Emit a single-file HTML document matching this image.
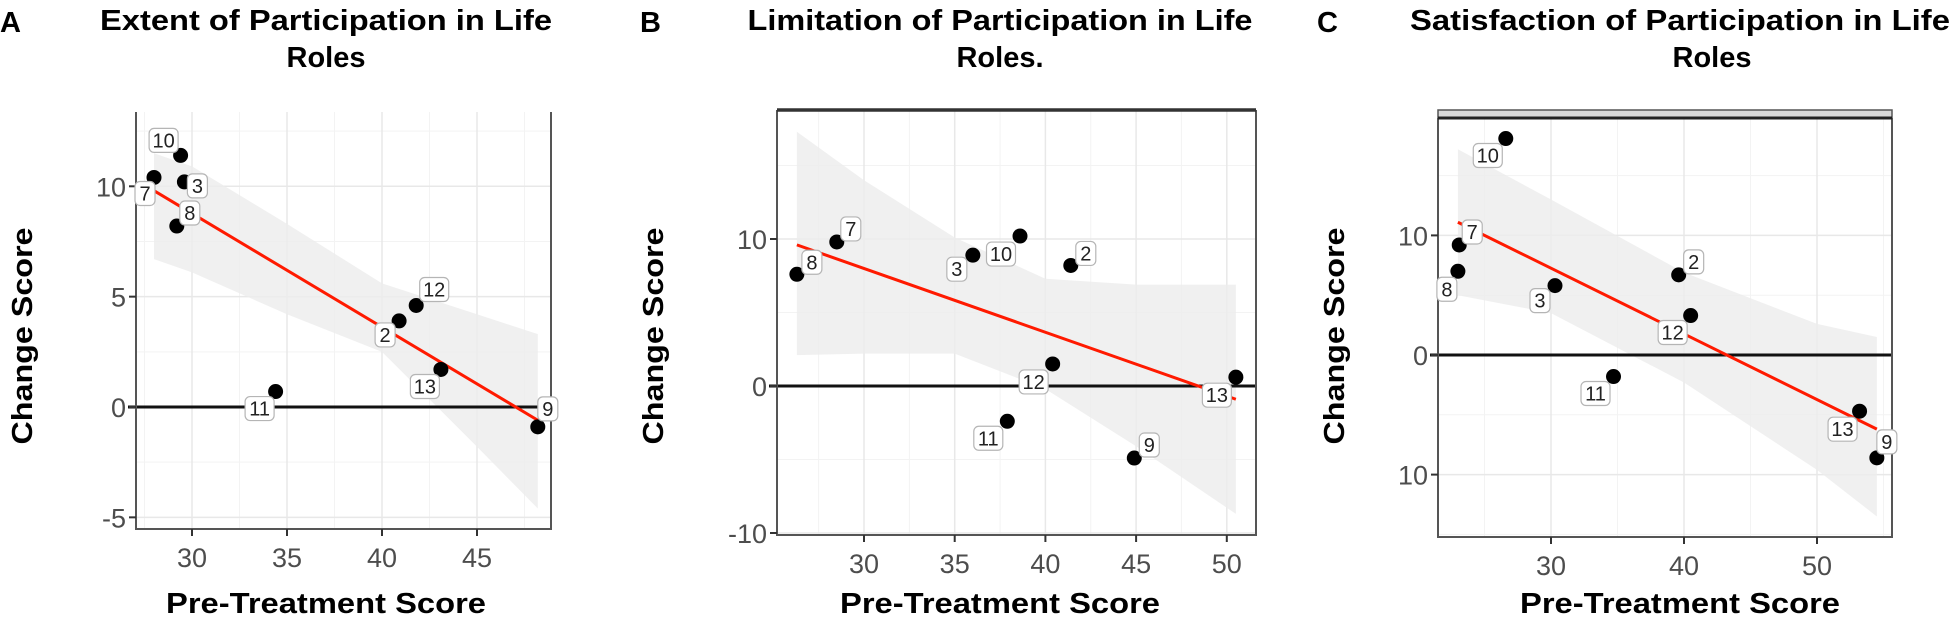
<!DOCTYPE html>
<html><head><meta charset="utf-8">
<style>
html,body{margin:0;padding:0;background:#fff;}
svg{display:block;}
.tick{font-family:"Liberation Sans Narrow","Liberation Sans",sans-serif;font-size:27px;fill:#4d4d4d;}
.ttl{font-family:"Liberation Sans",sans-serif;font-weight:bold;font-size:29px;fill:#000;}
.lbl{font-family:"Liberation Sans Narrow","Liberation Sans",sans-serif;font-size:20px;fill:#222;}
</style></head>
<body>
<svg id="fig" width="1950" height="619" viewBox="0 0 1950 619" xmlns="http://www.w3.org/2000/svg"></svg>
<script>
// ---- Panel A data ----
const aIds = ['7','10','3','8','11','2','12','13','9'];
const aX = [28.0,29.4,29.6,29.2,34.4,40.9,41.8,43.1,48.2];
const aY = [10.4,11.4,10.2,8.2,0.7,3.9,4.6,1.7,-0.9];
const aFitX = [28.0,48.2];
const aFitY = [9.8,-0.6];
const aBandX = [28,30,35,40,45,48.2];
const aBandLo = [6.7,6.1,4.2,2.5,-1.8,-4.6];
const aBandHi = [11.5,10.9,8.3,5.6,4.2,3.3];
const aXTicks = [30,35,40,45];
const aYTicks = [-5,0,5,10];
const aYTickLabels = ['-5','0','5','10'];
// ---- Panel B data ----
const bIds = ['8','7','3','10','2','12','11','9','13'];
const bX = [26.3,28.5,36.0,38.6,41.4,40.4,37.9,44.9,50.5];
const bY = [7.6,9.8,8.9,10.2,8.2,1.5,-2.4,-4.9,0.6];
const bFitX = [26.3,50.5];
const bFitY = [9.6,-0.9];
const bBandX = [26.3,30,35,40,45,50.5];
const bBandLo = [2.1,2.2,2.2,-0.2,-4.1,-8.7];
const bBandHi = [17.3,14.0,10.1,7.3,6.9,6.9];
const bXTicks = [30,35,40,45,50];
const bYTicks = [-10,0,10];
const bYTickLabels = ['-10','0','10'];
// ---- Panel C data ----
const cIds = ['10','7','8','3','2','12','11','13','9'];
const cX = [26.6,23.1,23.0,30.3,39.6,40.5,34.7,53.2,54.5];
const cY = [18.1,9.2,7.0,5.8,6.7,3.3,-1.8,-4.7,-8.6];
const cFitX = [23.0,54.5];
const cFitY = [11.1,-6.2];
const cBandX = [23,30,40,50,54.5];
const cBandLo = [5.0,3.5,-2.3,-9.6,-13.5];
const cBandHi = [17.2,13.0,6.9,2.6,1.5];
const cXTicks = [30,40,50];
const cYTicks = [-10,0,10];
const cYTickLabels = ['10','0','10'];

const NS='http://www.w3.org/2000/svg';
const fig=document.getElementById('fig');
function mk(tag,attrs,parent){const e=document.createElementNS(NS,tag);for(const k in attrs)e.setAttribute(k,attrs[k]);(parent||fig).appendChild(e);return e;}

function panel(cfg){
  const g=mk('g',{});
  
  
  const sx=v=>cfg.x0px+(v-cfg.x0v)*cfg.xs;
  const sy=v=>cfg.y0px-(v)*cfg.ys;
  const L=cfg.left,R=cfg.right,T=cfg.top,B=cfg.bottom;
  cfg.minorX.forEach(v=>{const l=mk('line',{x1:sx(v),x2:sx(v),y1:T,y2:B,stroke:'#f3f3f3','stroke-width':1},g);});
  cfg.minorY.forEach(v=>{const l=mk('line',{x1:L,x2:R,y1:sy(v),y2:sy(v),stroke:'#f3f3f3','stroke-width':1},g);});
  cfg.xticks.forEach(v=>{const l=mk('line',{x1:sx(v),x2:sx(v),y1:T,y2:B,stroke:'#e8e8e8','stroke-width':1.5},g);});
  cfg.yticks.forEach(v=>{const l=mk('line',{x1:L,x2:R,y1:sy(v),y2:sy(v),stroke:'#e8e8e8','stroke-width':1.5},g);});
  let d='';
  cfg.bandX.forEach((x,i)=>{d+=(i?'L':'M')+sx(x)+','+sy(cfg.bandHi[i]);});
  for(let i=cfg.bandX.length-1;i>=0;i--)d+='L'+sx(cfg.bandX[i])+','+sy(cfg.bandLo[i]);
  const band=mk('path',{d:d+'Z',fill:'#ececec','fill-opacity':0.8},g);
  
  
  const z=mk('line',{x1:L-8,x2:R,y1:sy(0),y2:sy(0),stroke:'#111','stroke-width':3},g);
  
  
  const f=mk('line',{x1:sx(cfg.fitX[0]),y1:sy(cfg.fitY[0]),x2:sx(cfg.fitX[1]),y2:sy(cfg.fitY[1]),stroke:'#ff1a00','stroke-width':3},g);
  
  
  const ax=mk('path',{d:`M${L},${T}V${B}H${R}V${T}`,fill:'none',stroke:'#555','stroke-width':2},g);
  
  
  if(cfg.topStyle==='thick'){const t=mk('line',{x1:L,x2:R,y1:T,y2:T,stroke:'#333','stroke-width':3.5},g);}
  if(cfg.topStyle==='strip'){const s=mk('rect',{x:L,y:T-8,width:R-L,height:8,fill:'#d9d9d9',stroke:'#555','stroke-width':1.5},g);const t=mk('line',{x1:L,x2:R,y1:T,y2:T,stroke:'#222','stroke-width':3},g);}
  cfg.xticks.forEach(v=>{
    const t=mk('line',{x1:sx(v),x2:sx(v),y1:B,y2:B+7,stroke:'#333','stroke-width':2},g);
    const tx=mk('text',{x:sx(v),y:B+38,'text-anchor':'middle',class:'tick'},g);tx.textContent=v;
  });
  cfg.yticks.forEach((v,i)=>{
    const t=mk('line',{x1:L-7,x2:L,y1:sy(v),y2:sy(v),stroke:'#333','stroke-width':2},g);
    const tx=mk('text',{x:L-10,y:sy(v)+10,'text-anchor':'end',class:'tick'},g);tx.textContent=cfg.yTickLabels[i];
  });
  cfg.xs_.forEach((x,i)=>{
    const c=mk('circle',{cx:sx(x),cy:sy(cfg.ys_[i]),r:7.5,fill:'#000'},g);
    
    
  });
  cfg.xs_.forEach((x,i)=>{
    const o=cfg.off[i];const cx=sx(x)+o[0],cy=sy(cfg.ys_[i])+o[1];
    const w=cfg.ids[i].length>1?29:20;
    const r=mk('rect',{x:cx-w/2,y:cy-12,width:w,height:24,rx:5,fill:'#fff',stroke:'#b5b5b5','stroke-width':1.2},g);
    
    
    const t=mk('text',{x:cx,y:cy+7,'text-anchor':'middle',class:'lbl'},g);t.textContent=cfg.ids[i];
    
    
  });
  const l=mk('text',{x:cfg.letterX,y:32,class:'ttl','font-size':34},g);l.textContent=cfg.letter;
  
  const t1=mk('text',{x:cfg.t1x,y:30,'text-anchor':'middle',class:'ttl',textLength:cfg.t1w,lengthAdjust:'spacingAndGlyphs'},g);t1.textContent=cfg.title1;
  
  const t2=mk('text',{x:cfg.t2x,y:67,'text-anchor':'middle',class:'ttl'},g);t2.textContent=cfg.title2;
  
  const xt=mk('text',{x:cfg.xtx,y:613,'text-anchor':'middle',class:'ttl',textLength:320,lengthAdjust:'spacingAndGlyphs'},g);xt.textContent='Pre-Treatment Score';
  
  const yt=mk('text',{x:0,y:0,'text-anchor':'middle',class:'ttl',textLength:217,lengthAdjust:'spacingAndGlyphs',transform:`translate(${cfg.ytx},336) rotate(-90)`},g);yt.textContent='Change Score';
  
}

panel({key:'a',letter:'A',letterX:0,title1:'Extent of Participation in Life',title2:'Roles',t1x:326,t1w:452,t2x:326,xtx:326,ytx:32,
  left:136,right:551,top:112,bottom:529,x0px:192,x0v:30,xs:19,y0px:407,ys:22.07,
  xticks:aXTicks,yticks:aYTicks,yTickLabels:aYTickLabels,minorX:[27.5,32.5,37.5,42.5,47.5],minorY:[-2.5,2.5,7.5,12.5],
  ids:aIds,xs_:aX,ys_:aY,fitX:aFitX,fitY:aFitY,bandX:aBandX,bandLo:aBandLo,bandHi:aBandHi,topStyle:'none',
  off:[[-9,16],[-17,-15],[13,4],[13,-13],[-16,17],[-14,14],[18,-16],[-16,17],[10,-18]]});
panel({key:'b',letter:'B',letterX:640,title1:'Limitation of Participation in Life',title2:'Roles.',t1x:1000,t1w:505,t2x:1000,xtx:1000,ytx:663,
  left:777,right:1256,top:110,bottom:535,x0px:864,x0v:30,xs:18.14,y0px:386,ys:14.7,
  xticks:bXTicks,yticks:bYTicks,yTickLabels:bYTickLabels,minorX:[27.5,32.5,37.5,42.5,47.5],minorY:[-5,5,15],
  ids:bIds,xs_:bX,ys_:bY,fitX:bFitX,fitY:bFitY,bandX:bBandX,bandLo:bBandLo,bandHi:bBandHi,topStyle:'thick',
  off:[[15,-12],[14,-13],[-16,14],[-19,18],[15,-12],[-19,18],[-19,17],[15,-13],[-19,18]]});
panel({key:'c',letter:'C',letterX:1317,title1:'Satisfaction of Participation in Life',title2:'Roles',t1x:1680,t1w:540,t2x:1712,xtx:1680,ytx:1344,
  left:1438,right:1892,top:118,bottom:537,x0px:1551,x0v:30,xs:13.3,y0px:355,ys:11.96,
  xticks:cXTicks,yticks:cYTicks,yTickLabels:cYTickLabels,minorX:[25,35,45,55],minorY:[-15,-5,5,15],
  ids:cIds,xs_:cX,ys_:cY,fitX:cFitX,fitY:cFitY,bandX:cBandX,bandLo:cBandLo,bandHi:cBandHi,topStyle:'strip',
  off:[[-18,17],[13,-13],[-11,18],[-15,15],[15,-13],[-18,17],[-18,17],[-17,18],[10,-16]]});
</script>
</body></html>
